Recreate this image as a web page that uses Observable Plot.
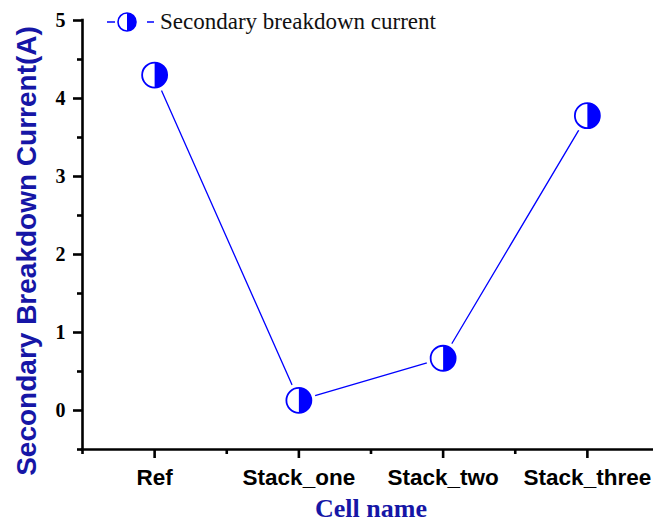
<!DOCTYPE html>
<html>
<head>
<meta charset="utf-8">
<script src="https://cdn.jsdelivr.net/npm/d3@7"></script>
<script src="https://cdn.jsdelivr.net/npm/@observablehq/plot@0.6"></script>
<style>
  body { margin: 0; background: #fff; }
  #chart { position: relative; width: 653px; height: 522px; }
  .legend {
    position: absolute; left: 105px; top: 7px;
    display: flex; align-items: center;
    font: 23px "Liberation Serif", "Times New Roman", serif; color: #111;
  }
  .legend svg { display: block; margin-right: 5px; }
</style>
</head>
<body>
<div id="chart"></div>
<script>
// Cell variants and their measured secondary breakdown current (A)
const cells = ["Ref", "Stack_one", "Stack_two", "Stack_three"];
const current = [4.30, 0.13, 0.67, 3.78];

// Axis ticks
const yTicks = [0, 1, 2, 3, 4, 5];
const yMinorTicks = [-0.5, 0.5, 1.5, 2.5, 3.5, 4.5];
const xTicks = [1, 2, 3, 4];
const xMinorTicks = [0.5, 1.5, 2.5, 3.5, 4.5];

// Texts
const seriesName = "Secondary breakdown current";
const xTitle = "Cell name";
const yTitle = "Secondary Breakdown Current(A)";

const blue = "#0000ff";
const titleBlue = "#1616a6";

const data = cells.map((cell, i) => ({pos: i + 1, cell, value: current[i]}));

// Right half of a disc, used to make the half-filled circle marker
const rightHalf = {
  draw(context, size) {
    const r = Math.sqrt(size / Math.PI);
    context.moveTo(0, -r);
    context.arc(0, 0, r, -Math.PI / 2, Math.PI / 2);
    context.closePath();
  }
};

const plot = Plot.plot({
  width: 653,
  height: 522,
  marginLeft: 82,
  marginTop: 20,
  marginBottom: 73,
  marginRight: -6,
  style: {background: "#fff", color: "#000", overflow: "visible"},
  x: {type: "linear", domain: [0.5, 4.5], axis: null},
  y: {domain: [-0.5, 5], axis: null},
  marks: [
    // y axis: major ticks with labels, then minor ticks
    Plot.axisY({
      ticks: yTicks, tickSize: 9, tickPadding: 8, strokeWidth: 2.6,
      tickFormat: d => String(d), label: null,
      fontFamily: "Liberation Serif", fontWeight: "bold", fontSize: 20, fill: "#000"
    }),
    Plot.axisY({ticks: yMinorTicks, tickSize: 5, strokeWidth: 2.6, fill: "none", label: null}),
    // x axis: category ticks with labels, then minor ticks between them
    Plot.axisX({
      ticks: xTicks, tickSize: 9, tickPadding: 11, strokeWidth: 2.6,
      tickFormat: d => cells[d - 1], label: null,
      fontFamily: "Liberation Sans", fontWeight: "bold", fontSize: 22.5, fill: "#000"
    }),
    Plot.axisX({ticks: xMinorTicks, tickSize: 5, strokeWidth: 2.6, fill: "none", label: null}),
    // axis lines
    Plot.ruleX([0.5], {strokeWidth: 2.6, strokeLinecap: "square"}),
    Plot.ruleY([-0.5], {strokeWidth: 2.6, strokeLinecap: "square"}),
    // series line, with a white gap around each marker
    Plot.line(data, {x: "pos", y: "value", stroke: blue, strokeWidth: 1.3}),
    Plot.dot(data, {x: "pos", y: "value", r: 17, fill: "#fff"}),
    Plot.dot(data, {x: "pos", y: "value", r: 12.5, fill: "#fff", stroke: blue, strokeWidth: 1.8}),
    Plot.dot(data, {x: "pos", y: "value", r: 12.5, fill: blue, symbol: rightHalf}),
    // axis titles
    Plot.text([yTitle], {
      frameAnchor: "left", textAnchor: "middle", lineAnchor: "middle",
      rotate: -90, dx: -55, dy: 16,
      fontFamily: "Liberation Sans", fontWeight: "bold", fontSize: 28, fill: titleBlue
    }),
    Plot.text([xTitle], {
      frameAnchor: "bottom", textAnchor: "middle", lineAnchor: "middle", dy: 59,
      fontFamily: "Liberation Serif", fontWeight: "bold", fontSize: 26, fill: titleBlue
    })
  ]
});

const chart = document.getElementById("chart");
chart.appendChild(plot);

// Legend entry: line – half-filled circle – line, then the series name
const legend = document.createElement("div");
legend.className = "legend";
legend.innerHTML = `
  <svg width="50" height="30" viewBox="0 0 50 30">
    <line x1="2" y1="15" x2="10" y2="15" stroke="${blue}" stroke-width="1.5"/>
    <line x1="42" y1="15" x2="49" y2="15" stroke="${blue}" stroke-width="1.5"/>
    <circle cx="22" cy="15" r="9" fill="#fff" stroke="${blue}" stroke-width="1.6"/>
    <path d="M22,6 A9,9 0 0 1 22,24 Z" fill="${blue}"/>
  </svg>
  <span></span>`;
legend.querySelector("span").textContent = seriesName;
chart.appendChild(legend);
</script>
</body>
</html>
